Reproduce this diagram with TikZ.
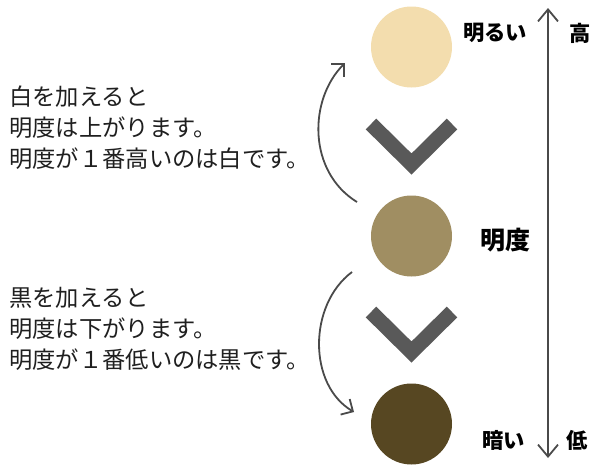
\documentclass[tikz,border=0pt]{standalone}
\usepackage{fontspec}
\newfontfamily\cjk{Noto Sans CJK JP}
\usetikzlibrary{arrows.meta}
\definecolor{light}{HTML}{F3DDAE}
\definecolor{mid}{HTML}{A08E62}
\definecolor{dark}{HTML}{574722}
\definecolor{chev}{HTML}{595959}
\definecolor{ln}{HTML}{4A4A4A}
\tikzset{
  dot/.style={circle, minimum size=81pt, inner sep=0pt},
  chevron/.style={draw=chev, line width=15pt, line join=miter, line cap=butt},
  curvarrow/.style={draw=ln, line width=1.8pt, -{Straight Barb[length=9pt,width=18pt,line width=1.8pt]}},
  body/.style={font=\cjk\fontsize{23.3}{31}\selectfont, anchor=west, inner sep=0pt, text=black!88},
  lab/.style={font=\cjk\bfseries\fontsize{21.3}{24}\selectfont, inner sep=0pt, text=black},
}
\begin{document}
\begin{tikzpicture}[x=1pt,y=-1pt]
\useasboundingbox (0,0) rectangle (591,466);
% circles
\node[dot, fill=light] (c1) at (411.5,47) {};
\node[dot, fill=mid] (c2) at (411.5,236) {};
\node[dot, fill=dark] (c3) at (411.5,424) {};
% chevrons
\draw[chevron] (371,124) -- (411.5,164) -- (452,124);
\draw[chevron] (371,312) -- (411.5,352) -- (452,312);
% vertical double arrow
\coordinate (vtop) at (548,8);
\coordinate (vbot) at (548,458);
\draw[draw=ln, line width=1.8pt, {Straight Barb[length=12pt,width=20pt,line width=1.8pt]}-{Straight Barb[length=12pt,width=20pt,line width=1.8pt]}] (vtop) -- (vbot);
% curved arrows
\coordinate (a1s) at (357,202);
\coordinate (a1e) at (345,63);
\draw[curvarrow] (a1s) .. controls (308,172) and (308,100) .. (a1e);
\coordinate (a2s) at (352,272);
\coordinate (a2e) at (354,412);
\draw[curvarrow] (a2s) .. controls (308,305) and (308,385) .. (a2e);
% left texts
\node[body] (t1) at (9,97) {白を加えると};
\node[body] (t2) at (9,128) {明度は上がります。};
\node[body] (t3) at (9,159) {明度が１番高いのは白です。};
\node[body] (t4) at (9,298) {黒を加えると};
\node[body] (t5) at (9,329) {明度は下がります。};
\node[body] (t6) at (9,360) {明度が１番低いのは黒です。};
% labels
\node[lab, anchor=west] (l1) at (463,33) {明るい};
\node[lab, anchor=west] (l2) at (569,33) {高};
\node[lab, anchor=west, font=\cjk\bfseries\fontsize{25}{28}\selectfont] (l3) at (480,240) {明度};
\node[lab, anchor=west] (l4) at (482,440) {暗い};
\node[lab, anchor=west] (l5) at (566,440) {低};
\end{tikzpicture}
\end{document}
